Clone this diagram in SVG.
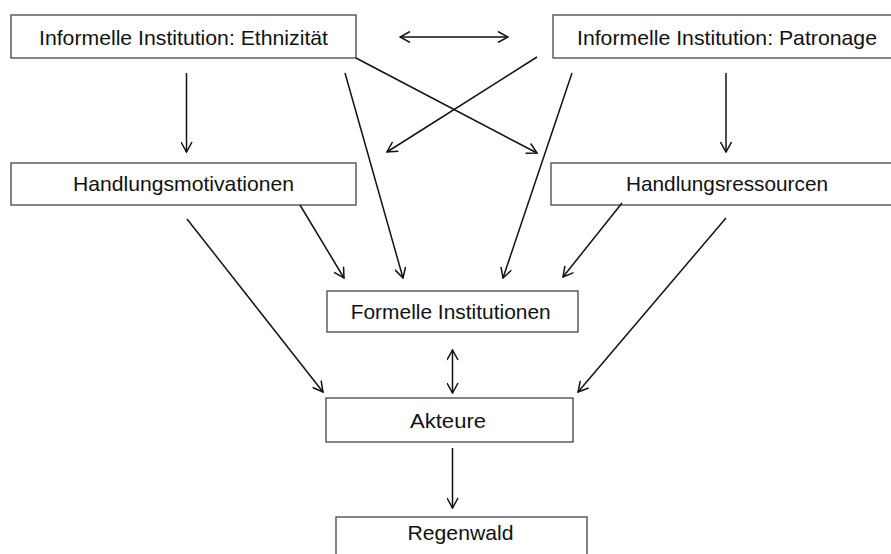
<svg xmlns="http://www.w3.org/2000/svg" width="891" height="554" viewBox="0 0 891 554">
<style>
.box rect{fill:#fff;stroke:#444;stroke-width:1.3}
.box text{font-family:"Liberation Sans",Arial,sans-serif;font-size:21px;fill:#111;text-anchor:middle}
#connectors line{stroke:#111;stroke-width:1.5;fill:none;marker-end:url(#ah)}
#connectors line.bi{marker-start:url(#ah)}
</style>
<defs>
<marker id="ah" viewBox="0 0 12 12" refX="11" refY="6" markerWidth="12" markerHeight="12" markerUnits="userSpaceOnUse" orient="auto-start-reverse">
<path d="M1,0.5 L11,6 L1,11.5" fill="none" stroke="#111" stroke-width="1.5"/>
</marker>
</defs>
<rect width="891" height="554" fill="#fff"/>
<g id="ethnizitaet" class="box"><rect x="11" y="15" width="345" height="43"/><text x="183.5" y="45" textLength="289" lengthAdjust="spacingAndGlyphs">Informelle Institution: Ethnizität</text></g>
<g id="patronage" class="box"><rect x="553" y="15" width="350" height="43"/><text x="727" y="45" textLength="300" lengthAdjust="spacingAndGlyphs">Informelle Institution: Patronage</text></g>
<g id="motivationen" class="box"><rect x="11" y="163" width="345" height="42"/><text x="183.5" y="191" textLength="221" lengthAdjust="spacingAndGlyphs">Handlungsmotivationen</text></g>
<g id="ressourcen" class="box"><rect x="551" y="163" width="352" height="42"/><text x="727" y="191" textLength="202" lengthAdjust="spacingAndGlyphs">Handlungsressourcen</text></g>
<g id="formelle" class="box"><rect x="327" y="291" width="251" height="41"/><text x="450.7" y="319" textLength="200" lengthAdjust="spacingAndGlyphs">Formelle Institutionen</text></g>
<g id="akteure" class="box"><rect x="326" y="398" width="247" height="44"/><text x="448" y="428" textLength="76" lengthAdjust="spacingAndGlyphs">Akteure</text></g>
<g id="regenwald" class="box"><rect x="336" y="517" width="251" height="50"/><text x="460.5" y="540" textLength="106" lengthAdjust="spacingAndGlyphs">Regenwald</text></g>
<g id="connectors">
<line class="bi" x1="400" y1="37" x2="508" y2="37"/>
<line x1="186.5" y1="73" x2="186.5" y2="152"/>
<line x1="345" y1="73" x2="403" y2="278"/>
<line x1="356" y1="58" x2="537" y2="153"/>
<line x1="537" y1="57" x2="387" y2="152"/>
<line x1="572" y1="73" x2="503" y2="278"/>
<line x1="726" y1="73" x2="726" y2="152"/>
<line x1="300" y1="205" x2="344" y2="278"/>
<line x1="187" y1="219" x2="323" y2="392"/>
<line x1="622" y1="203" x2="563" y2="277"/>
<line x1="726" y1="218" x2="578" y2="392"/>
<line class="bi" x1="452.5" y1="350" x2="452.5" y2="393"/>
<line x1="452.5" y1="448" x2="452.5" y2="508"/>
</g>
</svg>
